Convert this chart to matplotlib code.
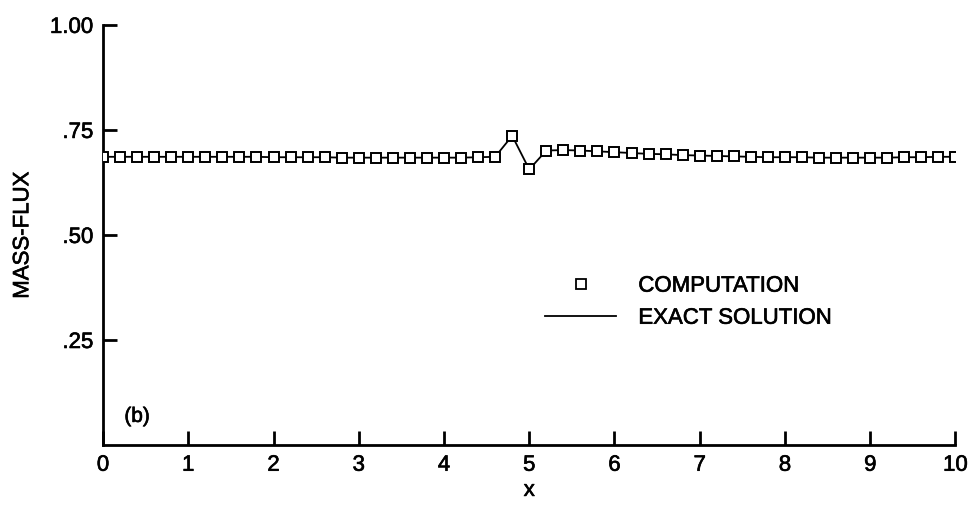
import matplotlib
matplotlib.use("Agg")
import matplotlib.pyplot as plt
import matplotlib.patheffects as pe
from matplotlib.lines import Line2D
import numpy as np

plt.rcParams["font.family"] = ["Liberation Sans", "DejaVu Sans"]

# mass flux sampled every 0.2 along x
x_pts = np.round(np.arange(0, 10.01, 0.2), 1)
flux = [
    0.686, 0.686, 0.686, 0.686, 0.686, 0.686, 0.686, 0.686, 0.686, 0.686,
    0.685, 0.685, 0.685, 0.685, 0.684, 0.684, 0.684, 0.684, 0.684, 0.684,
    0.684, 0.684, 0.685, 0.686, 0.736, 0.656, 0.701, 0.702, 0.701, 0.699,
    0.697, 0.695, 0.693, 0.692, 0.690, 0.689, 0.688, 0.687, 0.686, 0.685,
    0.685, 0.685, 0.684, 0.684, 0.684, 0.684, 0.684, 0.685, 0.685, 0.686,
    0.686,
]

y_ticks = [0.25, 0.50, 0.75, 1.00]
y_ticklabels = [".25", ".50", ".75", "1.00"]
x_ticks = list(range(0, 11))

# slightly heavier lettering
heavy = [pe.withStroke(linewidth=0.45, foreground="black")]

fig = plt.figure(figsize=(9.72, 5.08), dpi=100)
ax = fig.add_axes([0.106, 0.124, 0.877, 0.827])

ax.plot(x_pts, flux, color="black", lw=1.3, zorder=2)
ax.plot(x_pts, flux, "s", ms=7, mfc="white", mec="black", mew=1.4, zorder=3)

ax.set_xlim(0, 10)
ax.set_ylim(0, 1.0)
ax.set_xticks(x_ticks)
ax.set_xticklabels([str(t) for t in x_ticks])
ax.set_yticks(y_ticks)
ax.set_yticklabels(y_ticklabels)

for s in ("top", "right"):
    ax.spines[s].set_visible(False)
for s in ("left", "bottom"):
    ax.spines[s].set_linewidth(2)

ax.tick_params(axis="both", direction="in", length=10, width=2,
               labelsize=16, pad=7)
ax.set_xlabel("x", fontsize=16, labelpad=3)
ax.set_ylabel("MASS-FLUX", fontsize=16, labelpad=12)

ax.text(0.25, 0.055, "(b)", fontsize=15)

handles = [
    Line2D([], [], ls="none", marker="s", ms=7.5, mfc="white", mec="black", mew=1.3),
    Line2D([], [], color="black", lw=1.3),
]
leg = ax.legend(handles, ["COMPUTATION", "EXACT SOLUTION"], loc="center left",
                bbox_to_anchor=(0.495, 0.34), frameon=False, fontsize=16,
                handlelength=3.2, handletextpad=1.0, labelspacing=0.5)

for t in (ax.get_xticklabels() + ax.get_yticklabels() + leg.get_texts()
          + [ax.xaxis.label, ax.yaxis.label] + ax.texts):
    t.set_path_effects(heavy)

fig.savefig("out.png", dpi=100, facecolor="white")
